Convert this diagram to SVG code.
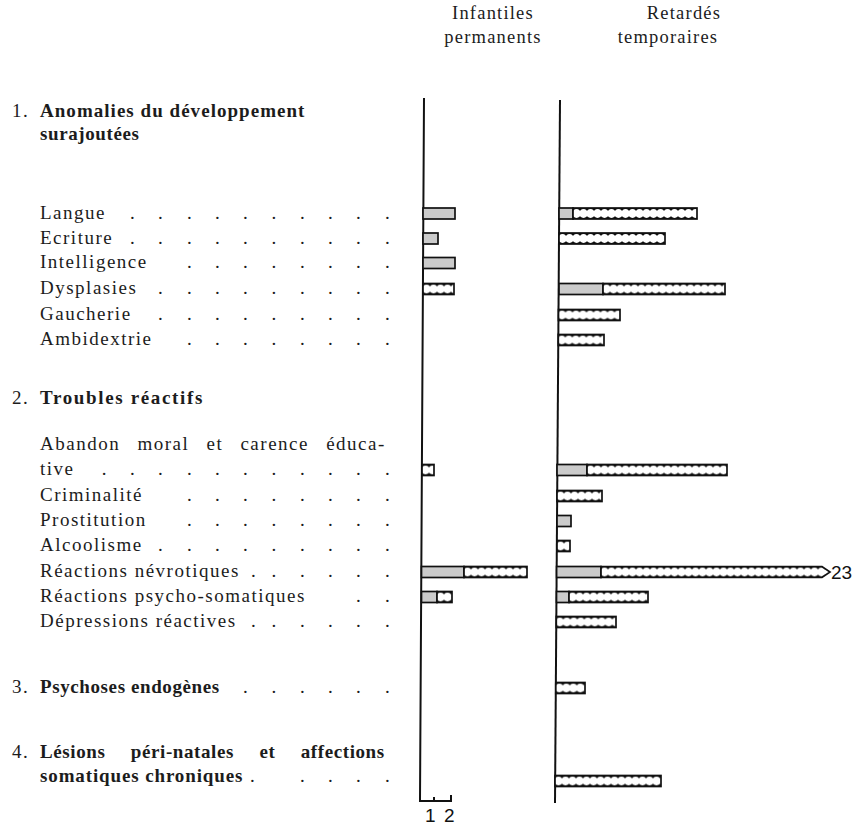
<svg xmlns="http://www.w3.org/2000/svg" width="855" height="825" viewBox="0 0 855 825">
<style>
.t{font-family:"Liberation Serif","Times New Roman",serif;font-size:19px;letter-spacing:1.5px;fill:#1c1c1c}
.b{font-weight:bold;letter-spacing:0.6px}
.h{font-family:"Liberation Serif","Times New Roman",serif;font-size:18.5px;letter-spacing:1.2px;fill:#1c1c1c;text-anchor:middle}
.n{font-family:"Liberation Sans",Arial,sans-serif;font-size:19px;fill:#111}
.ax{stroke:#111;stroke-width:2;fill:none}
.g{fill:#cbcbcb;stroke:#111;stroke-width:1.7}
.d{fill:url(#dp);stroke:#111;stroke-width:1.7}
</style>
<defs>
<pattern id="dp" width="7" height="11" patternUnits="userSpaceOnUse">
<rect width="7" height="11" fill="#111"/>
<circle cx="3.5" cy="5.5" r="4.4" fill="#fff"/>
</pattern>
</defs>
<rect width="855" height="825" fill="#fff"/>

<g id="headers">
<text class="h" x="493" y="19">Infantiles</text>
<text class="h" x="493" y="43">permanents</text>
<text class="h" x="684" y="19">Retardés</text>
<text class="h" x="668" y="43">temporaires</text>
</g>

<g id="labels">
<text class="t" x="12" y="117">1. <tspan class="b" x="40" textLength="265" lengthAdjust="spacing">Anomalies du développement</tspan></text>
<text class="t b" x="40" y="140">surajoutées</text>

<text class="t" x="40" y="219">Langue<tspan x="130 158 187 215 243 271.5 300 328 356 385">..........</tspan></text>
<text class="t" x="40" y="244">Ecriture<tspan x="130 158 187 215 243 271.5 300 328 356 385">..........</tspan></text>
<text class="t" x="40" y="268">Intelligence<tspan x="187 215 243 271.5 300 328 356 385">........</tspan></text>
<text class="t" x="40" y="294">Dysplasies<tspan x="158 187 215 243 271.5 300 328 356 385">.........</tspan></text>
<text class="t" x="40" y="320">Gaucherie<tspan x="158 187 215 243 271.5 300 328 356 385">.........</tspan></text>
<text class="t" x="40" y="345">Ambidextrie<tspan x="187 215 243 271.5 300 328 356 385">........</tspan></text>

<text class="t" x="12" y="404">2. <tspan class="b" x="40" textLength="163" lengthAdjust="spacing">Troubles réactifs</tspan></text>
<text class="t" x="40" y="450" word-spacing="11">Abandon moral et carence éduca-</text>
<text class="t" x="40" y="475">tive<tspan x="101.7 130 158 187 215 243 271.5 300 328 356 385">...........</tspan></text>
<text class="t" x="40" y="501">Criminalité<tspan x="187 215 243 271.5 300 328 356 385">........</tspan></text>
<text class="t" x="40" y="526">Prostitution<tspan x="187 215 243 271.5 300 328 356 385">........</tspan></text>
<text class="t" x="40" y="551">Alcoolisme<tspan x="158 187 215 243 271.5 300 328 356 385">.........</tspan></text>
<text class="t" x="40" y="577">Réactions névrotiques<tspan x="251 271.5 300 328 356 385">......</tspan></text>
<text class="t" x="40" y="602">Réactions psycho-somatiques<tspan x="356 385">..</tspan></text>
<text class="t" x="40" y="627">Dépressions réactives<tspan x="251 271.5 300 328 356 385">......</tspan></text>

<text class="t" x="12" y="693">3. <tspan class="b" x="40">Psychoses endogènes</tspan><tspan x="243 271.5 300 328 356 385">......</tspan></text>

<text class="t" x="12" y="758">4. <tspan class="b" x="40" word-spacing="20">Lésions péri-natales et affections</tspan></text>
<text class="t" x="40" y="782"><tspan class="b" textLength="203" lengthAdjust="spacing">somatiques chroniques</tspan><tspan x="250 300 328 356 385">.....</tspan></text>
</g>

<g id="axes">
<path class="ax" d="M424,98 L420,801 H451 V795"/>
<path class="ax" d="M434,801 V797"/>
<path class="ax" d="M560,100 L555,803"/>
<text class="n" x="425" y="822">1</text>
<text class="n" x="444" y="822">2</text>
</g>

<g id="bars-infantiles">
<rect class="g" x="423" y="208" width="32" height="11"/>
<rect class="g" x="423" y="233" width="15" height="11"/>
<rect class="g" x="423" y="257.5" width="32" height="11"/>
<rect class="d" transform="translate(423,283.5)" width="31" height="11"/>
<rect class="d" transform="translate(422,464.5)" width="12" height="11"/>
<rect class="g" x="421.5" y="566.5" width="42.5" height="11"/>
<rect class="d" transform="translate(464,566.5)" width="63" height="11"/>
<rect class="g" x="421.5" y="591.5" width="15.5" height="11"/>
<rect class="d" transform="translate(437,591.5)" width="15" height="11"/>
</g>

<g id="bars-retardes">
<rect class="g" x="559" y="208" width="14" height="11"/>
<rect class="d" transform="translate(573,208)" width="124" height="11"/>
<rect class="d" transform="translate(559,233)" width="106" height="11"/>
<rect class="g" x="559" y="283.5" width="44" height="11"/>
<rect class="d" transform="translate(603,283.5)" width="122" height="11"/>
<rect class="d" transform="translate(558.5,309.5)" width="61.5" height="11"/>
<rect class="d" transform="translate(558.3,334.5)" width="45.7" height="11"/>
<rect class="g" x="557" y="464.5" width="30" height="11"/>
<rect class="d" transform="translate(587,464.5)" width="140" height="11"/>
<rect class="d" transform="translate(557,490.5)" width="45" height="11"/>
<rect class="g" x="557" y="515.5" width="14" height="11"/>
<rect class="d" transform="translate(557,540.5)" width="13" height="11"/>
<rect class="g" x="556.6" y="566.5" width="44.4" height="11"/>
<path class="d" transform="translate(601,566.5)" d="M0,0 H221 L229,5.5 L221,11 H0 Z"/>
<text class="n" x="831" y="579">23</text>
<rect class="g" x="556.5" y="591.5" width="12.5" height="11"/>
<rect class="d" transform="translate(569,591.5)" width="79" height="11"/>
<rect class="d" transform="translate(556.3,616.5)" width="59.7" height="11"/>
<rect class="d" transform="translate(555.8,682.5)" width="29.2" height="11"/>
<rect class="d" transform="translate(555,775.5)" width="106" height="11"/>
</g>
</svg>
